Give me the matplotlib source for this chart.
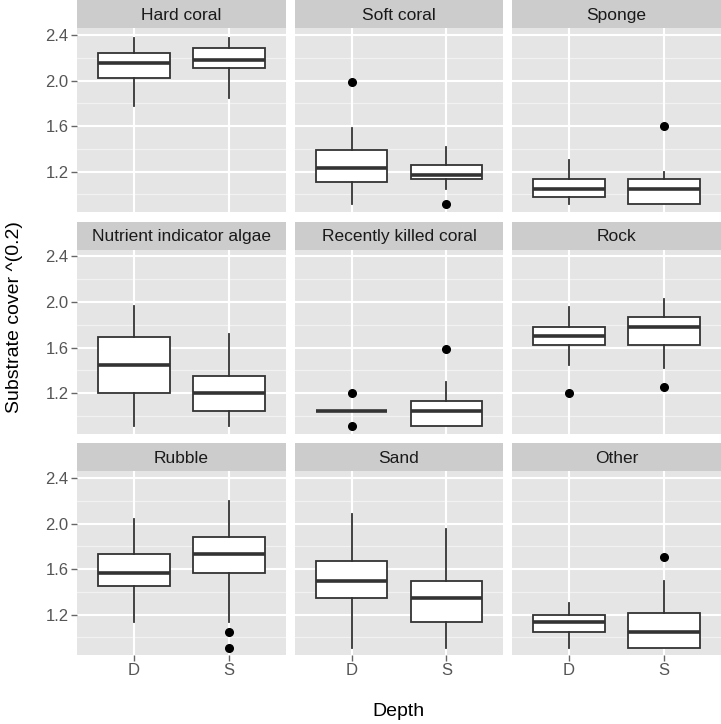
import matplotlib
matplotlib.use('Agg')
import matplotlib.pyplot as plt

# substrate categories, in facet order
categories = ['Hard coral', 'Soft coral', 'Sponge',
              'Nutrient indicator algae', 'Recently killed coral', 'Rock',
              'Rubble', 'Sand', 'Other']
depths = ['D', 'S']

# box stats per category, [D, S]
whislo = [[1.777, 1.845], [0.916, 1.048], [0.916, 0.913],
          [0.914, 0.914], [1.044, 0.908], [1.445, 1.418],
          [1.136, 1.136], [0.910, 0.910], [0.910, 0.907]]
q1 = [[2.020, 2.108], [1.112, 1.133], [0.978, 0.913],
      [1.200, 1.044], [1.044, 0.908], [1.619, 1.624],
      [1.450, 1.564], [1.350, 1.133], [1.045, 0.907]]
med = [[2.154, 2.180], [1.230, 1.171], [1.045, 1.045],
       [1.451, 1.200], [1.044, 1.044], [1.704, 1.778],
       [1.564, 1.731], [1.494, 1.347], [1.136, 1.045]]
q3 = [[2.240, 2.289], [1.388, 1.259], [1.133, 1.133],
      [1.692, 1.350], [1.044, 1.133], [1.781, 1.869],
      [1.731, 1.883], [1.672, 1.494], [1.200, 1.215]]
whishi = [[2.376, 2.376], [1.586, 1.414], [1.300, 1.200],
          [1.969, 1.719], [1.044, 1.297], [1.952, 2.028],
          [2.039, 2.200], [2.080, 1.956], [1.300, 1.494]]
outliers = [[[], []], [[1.985], [0.916]], [[], [1.604]],
            [[], []], [[1.200, 0.914], [1.589]], [[1.200], [1.257]],
            [[], [1.048, 0.910]], [[], []], [[], [1.705]]]

yticks = [1.2, 1.6, 2.0, 2.4]
yminor = [1.0, 1.4, 1.8, 2.2]

plt.rcParams['font.family'] = ['Liberation Sans', 'DejaVu Sans']

W, H = 721, 724
fig = plt.figure(figsize=(W / 100, H / 100), dpi=100)
fig.patch.set_facecolor('white')

# layout in pixels
left0, pw, gapx = 77, 209, 8.5
top0, sh, ph, gapy = 0, 28, 184, 9.5

for i, cat in enumerate(categories):
    r, c = divmod(i, 3)
    x0 = left0 + c * (pw + gapx)
    st = top0 + r * (sh + ph + gapy)
    pt = st + sh
    ax = fig.add_axes([x0 / W, 1 - (pt + ph) / H, pw / W, ph / H])
    sax = fig.add_axes([x0 / W, 1 - pt / H, pw / W, sh / H])

    # strip
    sax.set_facecolor('#CCCCCC')
    sax.set_xticks([])
    sax.set_yticks([])
    for s in sax.spines.values():
        s.set_visible(False)
    sax.text(0.5, 0.45, cat, ha='center', va='center', fontsize=12.5,
             color='#1A1A1A', transform=sax.transAxes)

    # panel
    ax.set_facecolor('#E5E5E5')
    for s in ax.spines.values():
        s.set_visible(False)
    ax.set_axisbelow(True)
    for y in yminor:
        ax.axhline(y, color='#F2F2F2', lw=0.9, zorder=0)
    for y in yticks:
        ax.axhline(y, color='white', lw=1.5, zorder=0.5)
    for x in [1, 2]:
        ax.axvline(x, color='white', lw=1.5, zorder=0.5)

    stats = []
    for j, d in enumerate(depths):
        stats.append(dict(whislo=whislo[i][j], q1=q1[i][j], med=med[i][j],
                          q3=q3[i][j], whishi=whishi[i][j],
                          fliers=outliers[i][j], label=d))
    ax.bxp(stats, positions=[1, 2], widths=0.75, showcaps=False,
           patch_artist=True,
           boxprops=dict(facecolor='white', edgecolor='#333333', lw=1.3),
           medianprops=dict(color='#333333', lw=2.6, solid_capstyle='butt'),
           whiskerprops=dict(color='#333333', lw=1.3),
           flierprops=dict(marker='o', markersize=5.5, markerfacecolor='black',
                           markeredgecolor='black'))

    ax.set_xlim(0.4, 2.6)
    ax.set_ylim(0.846, 2.461)
    ax.set_yticks(yticks)
    ax.set_yticklabels(['1.2', '1.6', '2.0', '2.4'])
    ax.tick_params(axis='both', colors='#666666', labelcolor='#555555',
                   labelsize=12, length=4, width=1, pad=2)
    ax.set_xticks([1, 2])
    ax.set_xticklabels(depths)
    if c != 0:
        ax.tick_params(axis='y', left=False, labelleft=False)
    if r != 2:
        ax.tick_params(axis='x', bottom=False, labelbottom=False)

fig.text(398 / W, 1 - 712 / H, 'Depth', ha='center', va='center', fontsize=14)
fig.text(15 / W, 1 - 317 / H, 'Substrate cover ^(0.2)', ha='center', va='center',
         rotation=90, fontsize=14)

plt.savefig('out.png', dpi=100)
